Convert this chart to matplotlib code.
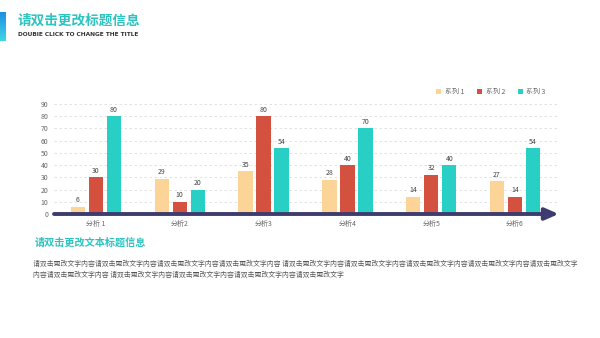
import matplotlib
matplotlib.use("Agg")
import matplotlib.pyplot as plt
import numpy as np

plt.rcParams['font.family'] = ['Noto Sans CJK SC', 'DejaVu Sans']

### Data ###
categories = ['分析 1', '分析2', '分析3', '分析4', '分析5', '分析6']
series_names = ['系列 1', '系列 2', '系列 3']
series1 = [6, 29, 35, 28, 14, 27]
series2 = [30, 10, 80, 40, 32, 14]
series3 = [80, 20, 54, 70, 40, 54]
y_ticks = [0, 10, 20, 30, 40, 50, 60, 70, 80, 90]

colors = ['#FDD497', '#D4503F', '#27CFC4']
teal = '#2CC3C0'
navy = '#3E3C6E'

title = '请双击更改标题信息'
subtitle = 'DOUBIE CLICK TO CHANGE THE TITLE'
section_title = '请双击更改文本标题信息'
body_line1 = ('请双击更改文字内容' * 4 + ' ' + '请双击更改文字内容' * 4 + '请双击更改文字')
body_line2 = '内容请双击更改文字内容 ' + '请双击更改文字内容' * 3 + '请双击更改文字'

### Figure ###
fig = plt.figure(figsize=(6, 3.38), dpi=100)
fig.patch.set_facecolor('white')

# header accent bar (gradient)
grad = np.linspace(0, 1, 50).reshape(-1, 1)
bar_ax = fig.add_axes([0, 1 - 41 / 338, 6 / 600, 29 / 338])
bar_ax.imshow(grad, aspect='auto', cmap=matplotlib.colors.LinearSegmentedColormap.from_list(
    'acc', ['#1E8FE0', '#3FD6E6']))
bar_ax.axis('off')

fig.text(18 / 600, 1 - 21 / 338, title, color=teal, fontsize=9.8, fontweight='bold', va='center')
fig.text(18 / 600, 1 - 34 / 338, subtitle, color='#333333', fontsize=4.2, fontweight='bold',
         va='center', family='DejaVu Sans')

ax = fig.add_axes([54 / 600, 1 - 214 / 338, 503 / 600, 110 / 338])
x = np.arange(len(categories))
w = 0.17
off = 0.215
for i, vals in enumerate([series1, series2, series3]):
    bars = ax.bar(x + (i - 1) * off, vals, width=w, color=colors[i], label=series_names[i], zorder=3)
    for b, v in zip(bars, vals):
        ax.text(b.get_x() + b.get_width() / 2, v + 2, str(v), ha='center', va='bottom',
                fontsize=5, color='#444444')

ax.set_xlim(-0.5, 5.5)
ax.set_ylim(0, 90)
ax.set_yticks(y_ticks)
ax.set_yticklabels([str(t) for t in y_ticks], fontsize=5, color='#666666')
ax.set_xticks(x)
ax.set_xticklabels(categories, fontsize=5, color='#666666')
ax.tick_params(length=0, pad=4)
ax.tick_params(axis='x', pad=4)
for s in ax.spines.values():
    s.set_visible(False)
ax.yaxis.grid(True, linestyle=(0, (3, 3)), color='#DDDDDD', linewidth=0.6, zorder=0)
ax.set_axisbelow(True)

# axis arrow
ax.annotate('', xy=(5.52, 0), xytext=(-0.5, 0), annotation_clip=False,
            arrowprops=dict(arrowstyle='-|>,head_length=0.8,head_width=0.35', color=navy,
                            lw=2.8, shrinkA=0, shrinkB=0), zorder=4)

leg = ax.legend(loc='upper right', bbox_to_anchor=(0.99, 1.2), ncol=3, frameon=False,
                fontsize=5, handlelength=0.7, handleheight=0.7, columnspacing=1.9,
                handletextpad=0.5, labelcolor='#666666')

fig.text(35 / 600, 1 - 243 / 338, section_title, color=teal, fontsize=7.3, fontweight='bold',
         va='center')
fig.text(33 / 600, 1 - 264 / 338, body_line1, color='#555555', fontsize=4.95, va='center')
fig.text(33 / 600, 1 - 275 / 338, body_line2, color='#555555', fontsize=4.95, va='center')

fig.savefig('out.png', dpi=100)
